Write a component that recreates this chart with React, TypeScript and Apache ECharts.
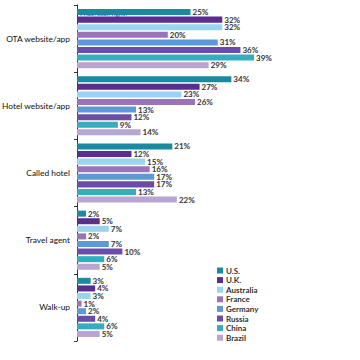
import React, { useEffect, useRef } from "react";
import * as echarts from "echarts";

const categories = ["OTA website/app", "Hotel website/app", "Called hotel", "Travel agent", "Walk-up"];
const countries = ["U.S.", "U.K.", "Australia", "France", "Germany", "Russia", "China", "Brazil"];
const usValues = [25, 34, 21, 2, 3];
const ukValues = [32, 27, 12, 5, 4];
const australiaValues = [32, 23, 15, 7, 3];
const franceValues = [20, 26, 16, 2, 1];
const germanyValues = [31, 13, 17, 7, 2];
const russiaValues = [36, 12, 17, 10, 4];
const chinaValues = [39, 9, 13, 6, 6];
const brazilValues = [29, 14, 22, 5, 5];
const seriesValues = [usValues, ukValues, australiaValues, franceValues, germanyValues, russiaValues, chinaValues, brazilValues];
const colors = ["#1a8aa0", "#5a2d91", "#9ad4ef", "#9b74b8", "#5b9ad4", "#6b4ca6", "#35adbc", "#b9a5d2"];

export default function App() {
  const ref = useRef<HTMLDivElement>(null);
  useEffect(() => {
    if (!ref.current) return;
    const chart = echarts.init(ref.current, null, { renderer: "svg" });
    chart.setOption({
      animation: false,
      textStyle: { fontFamily: "Lato" },
      grid: { left: 77, right: 101.4, top: 5, bottom: 19, containLabel: false, outerBoundsMode: "none" },
      xAxis: { type: "value", min: 0, max: 40, show: false },
      yAxis: {
        type: "category",
        inverse: true,
        data: categories,
        axisLine: { show: true, lineStyle: { color: "#333", width: 1 } },
        axisTick: { show: true, length: 3, lineStyle: { color: "#333" } },
        axisLabel: { color: "#111", fontSize: 8.4, margin: 7, fontFamily: "Lato" },
      },
      legend: {
        orient: "vertical",
        left: 212,
        top: 261,
        itemWidth: 6,
        itemHeight: 6,
        itemGap: 0.6,
        icon: "rect",
        data: countries,
        textStyle: { color: "#333", fontSize: 8, fontWeight: "bold", lineHeight: 9, padding: [0, 0, 0, -2] },
      },
      series: countries.map((name, i) => ({
        name,
        type: "bar",
        data: seriesValues[i],
        barCategoryGap: "12%",
        barGap: "26%",
        itemStyle: { color: colors[i] },
        label: {
          show: true,
          position: "right",
          distance: 1,
          formatter: "{c}%",
          color: "#333",
          fontSize: 8,
          fontWeight: "bold",
          lineHeight: 7.6,
          backgroundColor: "#fff",
          padding: [0, 1, 0, 1],
        },
      })),
      graphic: [
        {
          type: "text",
          left: 80,
          top: 10,
          style: { text: "Price/user/right?", fill: "#33335a", fontSize: 6.5, fontFamily: "Lato" },
        },
      ],
    });
    return () => chart.dispose();
  }, []);
  return <div ref={ref} style={{ width: 360, height: 360, position: "absolute", left: 0, top: 0 }} />;
}
